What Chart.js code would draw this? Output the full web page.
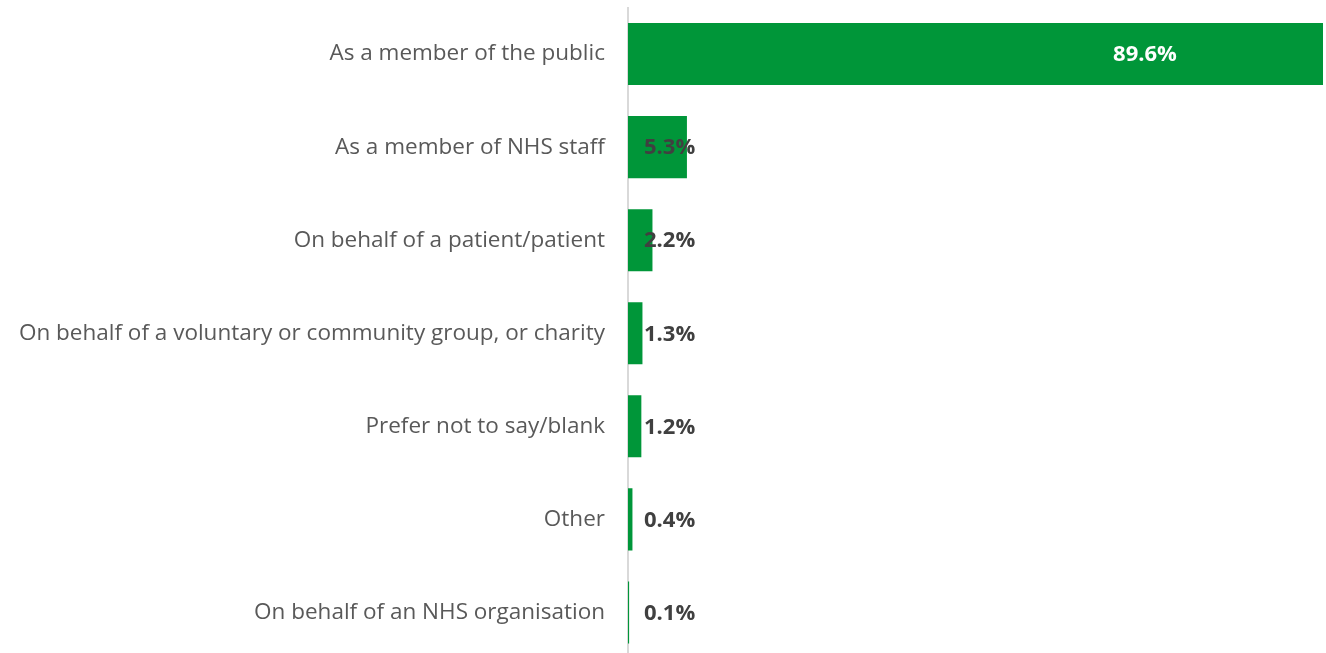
<!DOCTYPE html>
<html>
<head>
<meta charset="utf-8">
<script src="https://cdn.jsdelivr.net/npm/chart.js@4/dist/chart.umd.min.js"></script>
<style>
  html, body { margin: 0; padding: 0; background: #ffffff; overflow: hidden; }
  #wrap { position: relative; width: 1326px; height: 659px; }
</style>
</head>
<body>
<div id="wrap"><canvas id="chart"></canvas></div>
<script>
// Respondent type, share of all responses (%)
const categories = [
  "As a member of the public",
  "As a member of NHS staff",
  "On behalf of a patient/patient",
  "On behalf of a voluntary or community group, or charity",
  "Prefer not to say/blank",
  "Other",
  "On behalf of an NHS organisation"
];
const shares = [89.6, 5.3, 2.2, 1.3, 1.2, 0.4, 0.1];

// Value axis is capped so the small groups stay visible; the largest bar runs off the edge.
const axisMax = 62.5;

const FONT = "'Open Sans', Lato, sans-serif";
const GREEN = "#009639";

// Percentage labels: short bars get the label just right of the axis,
// the clipped long bar gets a white label inside it.
const valueLabels = {
  id: "valueLabels",
  afterDatasetsDraw(chart) {
    const { ctx, chartArea } = chart;
    const meta = chart.getDatasetMeta(0);
    const xs = chart.scales.x;
    const base = xs.getPixelForValue(0);
    ctx.save();
    ctx.font = "bold 22px " + FONT;
    ctx.textBaseline = "middle";
    meta.data.forEach((bar, i) => {
      const v = shares[i];
      const txt = v.toFixed(1) + "%";
      if (v > axisMax) {
        ctx.fillStyle = "#ffffff";
        ctx.textAlign = "center";
        ctx.fillText(txt, chartArea.right - 178, bar.y + 1);
      } else {
        ctx.fillStyle = "#404040";
        ctx.textAlign = "left";
        ctx.fillText(txt, base + 16, bar.y + 1);
      }
    });
    ctx.restore();
  }
};

new Chart(document.getElementById("chart"), {
  type: "bar",
  data: {
    labels: categories,
    datasets: [{
      data: shares,
      backgroundColor: GREEN,
      borderWidth: 0,
      categoryPercentage: 1,
      barPercentage: 0.667
    }]
  },
  options: {
    indexAxis: "y",
    responsive: true,
    maintainAspectRatio: false,
    animation: false,
    layout: { padding: { top: 7.5, right: 3, bottom: 0, left: 0 } },
    plugins: { legend: { display: false }, tooltip: { enabled: false } },
    scales: {
      x: {
        min: 0,
        max: axisMax,
        display: false
      },
      y: {
        grid: { display: false, drawTicks: false },
        border: { display: true, color: "#d9d9d9", width: 2 },
        ticks: {
          color: "#595959",
          font: { family: FONT, size: 22.5 },
          padding: 23
        },
        afterFit(scale) {
          scale.width = 628;
          scale.paddingTop = 0;
          scale.paddingBottom = 0;
        }
      }
    }
  },
  plugins: [valueLabels]
});
</script>
</body>
</html>
